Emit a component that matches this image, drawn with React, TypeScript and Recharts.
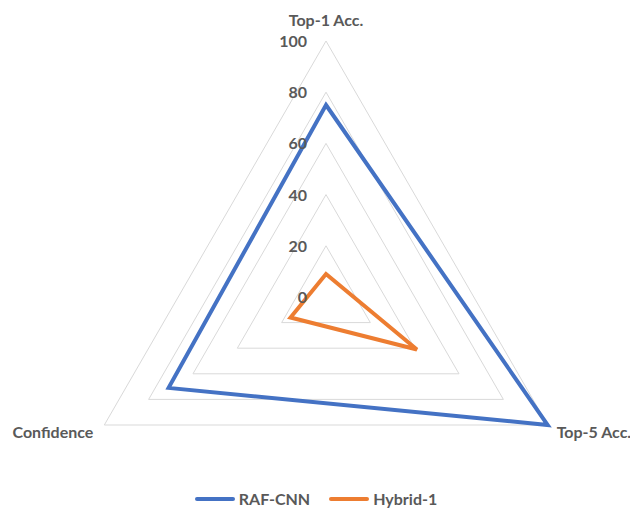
import { RadarChart, Radar, PolarGrid, PolarAngleAxis, PolarRadiusAxis, Legend } from "recharts";

const metrics = ["Top-1 Acc.", "Top-5 Acc.", "Confidence"];
const rafCnn = [75, 100, 71];
const hybrid1 = [9, 41, 16];
const radiusTicks = [0, 20, 40, 60, 80, 100];

const SERIES = [
  { key: "rafCnn", name: "RAF-CNN", color: "#4472C4" },
  { key: "hybrid1", name: "Hybrid-1", color: "#ED7D31" },
];

const data = metrics.map((name, i) => ({ name, rafCnn: rafCnn[i], hybrid1: hybrid1[i] }));

const textStyle = {
  fontFamily: "Lato, 'Open Sans', sans-serif",
  fontWeight: 700,
  fontSize: 16,
  fill: "#595959",
};

const ANGLE_TICK_OFFSET: Record<string, { dx: number; dy: number; anchor: "start" | "middle" | "end" }> = {
  "Top-1 Acc.": { dx: 0, dy: -7, anchor: "middle" },
  "Top-5 Acc.": { dx: 2, dy: 9, anchor: "start" },
  Confidence: { dx: -4, dy: 9, anchor: "end" },
};

function AngleTick(props: any) {
  const { x, y, payload } = props;
  const o = ANGLE_TICK_OFFSET[payload.value] ?? { dx: 0, dy: 0, anchor: "middle" };
  return (
    <text x={x + o.dx} y={y + o.dy} textAnchor={o.anchor} style={textStyle}>
      {payload.value}
    </text>
  );
}

function RadiusTick(props: any) {
  const { x, y, payload } = props;
  return (
    <text x={x - 19} y={y + 6} textAnchor="end" style={textStyle}>
      {payload.value}
    </text>
  );
}

function LegendContent() {
  return (
    <div style={{ display: "flex", justifyContent: "center", alignItems: "center", gap: 19, height: 16, paddingLeft: 2 }}>
      {SERIES.map((s) => (
        <div key={s.key} style={{ display: "flex", alignItems: "center" }}>
          <span style={{ display: "inline-block", width: 40, height: 4, borderRadius: 2, background: s.color, marginRight: 4 }} />
          <span style={{ fontFamily: textStyle.fontFamily, fontWeight: 700, fontSize: 16, lineHeight: "16px", color: "#595959" }}>
            {s.name}
          </span>
        </div>
      ))}
    </div>
  );
}

export default function App() {
  return (
    <div style={{ position: "absolute", left: 0, top: 0, background: "#fff" }}>
      <RadarChart width={630} height={508} data={data} cx={326} cy={297} outerRadius={256}>
        <PolarGrid gridType="polygon" radialLines={false} stroke="#d9d9d9" />
        <PolarAngleAxis dataKey="name" tick={AngleTick} tickLine={false} axisLine={false} />
        <PolarRadiusAxis
          angle={90}
          domain={[0, 100]}
          ticks={radiusTicks}
          tickCount={6}
          axisLine={false}
          tickLine={false}
          tick={RadiusTick}
        />
        {SERIES.map((s) => (
          <Radar
            key={s.key}
            name={s.name}
            dataKey={s.key}
            stroke={s.color}
            strokeWidth={4}
            fill="none"
            fillOpacity={0}
            dot={false}
            isAnimationActive={false}
          />
        ))}
        <Legend content={LegendContent} wrapperStyle={{ top: 491, left: 0, width: 630 }} />
      </RadarChart>
    </div>
  );
}
